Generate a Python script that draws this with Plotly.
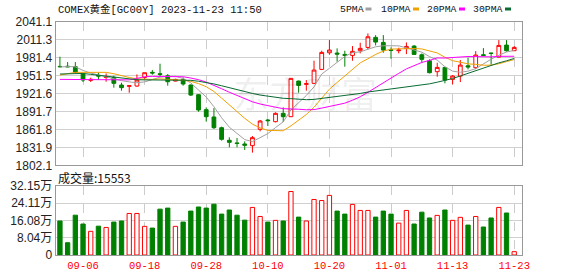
import plotly.graph_objects as go

# ---------------- data ----------------
dates = ["09-01", "09-04", "09-05", "09-06", "09-07", "09-08", "09-11", "09-12", "09-13", "09-14",
         "09-15", "09-18", "09-19", "09-20", "09-21", "09-22", "09-25", "09-26", "09-27", "09-28",
         "09-29", "10-02", "10-03", "10-04", "10-05", "10-06", "10-09", "10-10", "10-11", "10-12",
         "10-13", "10-16", "10-17", "10-18", "10-19", "10-20", "10-23", "10-24", "10-25", "10-26",
         "10-27", "10-30", "10-31", "11-01", "11-02", "11-03", "11-06", "11-07", "11-08", "11-09",
         "11-10", "11-13", "11-14", "11-15", "11-16", "11-17", "11-20", "11-21", "11-22", "11-23"]

open_ = [1966.7, 1967.0, 1966.2, 1954.0, 1943.4, 1951.8, 1948.4, 1948.4, 1935.7, 1933.5,
         1934.0, 1948.4, 1956.8, 1954.5, 1951.2, 1942.3, 1945.1, 1935.7, 1919.6, 1894.7,
         1882.5, 1864.7, 1843.7, 1839.2, 1837.6, 1834.8, 1862.0, 1877.5, 1874.7, 1888.6,
         1883.0, 1942.3, 1936.8, 1938.5, 1961.7, 1989.4, 1988.9, 1986.7, 1985.0, 1992.8,
         1998.3, 2015.0, 2006.6, 1994.4, 1992.8, 1996.7, 2000.5, 1986.1, 1976.1, 1957.9,
         1965.0, 1945.1, 1950.6, 1967.8, 1964.5, 1986.1, 1988.9, 1982.2, 2002.2, 1992.8]
high = [1982.8, 1973.9, 1973.9, 1954.5, 1947.9, 1956.2, 1955.0, 1951.2, 1939.6, 1935.1,
        1953.4, 1956.2, 1960.6, 1971.2, 1954.0, 1946.2, 1948.4, 1936.8, 1920.7, 1898.5,
        1897.4, 1866.4, 1848.7, 1847.6, 1842.0, 1850.9, 1877.5, 1879.1, 1890.2, 1898.5,
        1946.8, 1943.0, 1944.0, 1976.2, 1992.8, 2010.5, 1996.7, 1992.8, 2000.5, 2006.1,
        2021.6, 2018.8, 2018.8, 1998.3, 1997.8, 2006.6, 2002.2, 1988.3, 1978.4, 1972.8,
        1965.5, 1952.3, 1977.3, 1981.1, 1992.2, 1997.2, 1989.4, 2010.5, 2010.5, 2000.5]
low = [1965.1, 1965.5, 1956.0, 1940.7, 1940.7, 1944.0, 1941.2, 1931.3, 1926.3, 1922.9,
       1932.9, 1945.1, 1952.9, 1950.6, 1934.6, 1941.8, 1934.6, 1917.4, 1891.3, 1874.7,
       1862.5, 1843.1, 1832.0, 1832.0, 1827.6, 1823.2, 1858.6, 1867.5, 1873.6, 1874.1,
       1882.5, 1923.0, 1926.3, 1938.0, 1960.6, 1986.1, 1974.5, 1966.2, 1976.2, 1988.4,
       1995.0, 2001.6, 1989.4, 1979.5, 1988.4, 1987.2, 1986.1, 1972.8, 1955.1, 1949.5,
       1938.5, 1936.8, 1940.7, 1961.7, 1962.3, 1983.9, 1969.5, 1981.7, 1991.1, 1992.8]
close = [1966.2, 1966.0, 1956.8, 1944.0, 1945.1, 1950.6, 1949.5, 1938.5, 1931.3, 1934.6,
         1944.0, 1956.2, 1955.7, 1953.4, 1941.2, 1945.1, 1937.4, 1919.0, 1894.1, 1883.0,
         1864.7, 1845.3, 1840.3, 1838.6, 1835.4, 1848.1, 1875.8, 1876.4, 1888.6, 1883.0,
         1946.8, 1935.1, 1937.9, 1960.6, 1990.0, 1993.9, 1987.2, 1985.0, 1991.7, 1996.7,
         2016.0, 2007.2, 1993.9, 1993.3, 1993.9, 1999.9, 1986.7, 1978.4, 1956.2, 1965.0,
         1944.0, 1950.6, 1968.9, 1965.6, 1985.6, 1985.0, 1988.3, 2001.6, 1992.8, 1998.3]

ma5 = [1965.5, 1966.5, 1966.0, 1960.0, 1955.6, 1952.5, 1949.2, 1945.5, 1943.0, 1940.9,
       1939.6, 1940.9, 1944.4, 1948.8, 1950.1, 1950.3, 1946.6, 1939.2, 1927.4, 1915.7,
       1899.6, 1881.2, 1865.5, 1854.4, 1844.9, 1841.5, 1847.6, 1854.9, 1864.9, 1874.4,
       1894.1, 1906.0, 1918.3, 1932.7, 1954.1, 1963.5, 1973.9, 1983.3, 1989.6, 1990.9,
       1995.3, 1999.3, 2001.1, 2001.4, 2000.9, 1997.6, 1993.5, 1990.4, 1983.0, 1977.2,
       1966.1, 1958.8, 1956.9, 1958.8, 1962.9, 1971.1, 1978.7, 1985.2, 1990.7, 1993.2]
ma10 = [1952.3, 1955.0, 1956.8, 1956.8, 1956.8, 1956.8, 1956.8, 1954.5, 1951.0, 1948.3,
        1946.0, 1945.1, 1945.0, 1945.9, 1945.5, 1945.0, 1943.7, 1941.8, 1938.1, 1932.9,
        1925.0, 1913.9, 1902.4, 1890.9, 1880.3, 1870.6, 1864.4, 1860.2, 1859.6, 1859.6,
        1867.8, 1876.8, 1886.6, 1898.8, 1914.2, 1928.8, 1940.0, 1950.8, 1961.1, 1972.5,
        1979.4, 1986.6, 1992.2, 1995.5, 1995.9, 1996.5, 1996.4, 1995.8, 1992.2, 1989.1,
        1981.9, 1976.2, 1973.7, 1970.9, 1970.1, 1968.6, 1968.8, 1971.1, 1974.7, 1978.1]
ma20 = [1945.1, 1945.1, 1945.1, 1945.1, 1944.3, 1944.3, 1944.3, 1944.3, 1944.3, 1944.3,
        1946.8, 1949.5, 1950.1, 1950.1, 1950.1, 1950.1, 1949.5, 1947.3, 1944.6, 1940.6,
        1935.5, 1929.5, 1923.7, 1918.4, 1912.9, 1907.8, 1904.1, 1901.0, 1898.8, 1896.3,
        1896.4, 1895.4, 1894.5, 1894.8, 1897.3, 1899.7, 1902.2, 1905.5, 1910.4, 1916.1,
        1923.6, 1931.7, 1939.4, 1947.1, 1955.1, 1962.6, 1968.2, 1973.3, 1976.7, 1980.8,
        1980.6, 1981.4, 1983.0, 1983.2, 1983.0, 1982.5, 1982.6, 1983.4, 1983.5, 1983.6]
ma30 = [1954.0, 1954.5, 1955.0, 1955.0, 1953.5, 1952.0, 1950.5, 1948.0, 1946.5, 1945.5,
        1944.5, 1944.3, 1944.3, 1944.3, 1944.3, 1944.3, 1944.3, 1943.5, 1942.0, 1940.0,
        1937.5, 1934.5, 1931.0, 1928.0, 1925.0, 1921.7, 1919.0, 1916.8, 1915.0, 1913.6,
        1913.0, 1911.9, 1911.3, 1911.8, 1913.3, 1914.8, 1916.0, 1917.6, 1919.6, 1921.7,
        1924.1, 1925.8, 1927.0, 1928.4, 1930.1, 1932.0, 1933.6, 1935.6, 1937.7, 1940.4,
        1943.0, 1946.5, 1950.8, 1955.1, 1960.1, 1964.6, 1968.4, 1972.6, 1976.0, 1979.9]

# volume in 万
volume = [15.8, 5.7, 18.5, 14.4, 11.0, 13.4, 12.8, 15.3, 15.8, 19.3,
          19.3, 13.3, 12.5, 21.3, 21.8, 13.3, 15.3, 20.4, 22.3, 21.8,
          23.6, 19.0, 20.9, 18.5, 16.2, 22.1, 17.9, 15.3, 16.1, 15.8,
          29.5, 17.6, 15.8, 25.8, 25.3, 27.7, 20.4, 19.0, 23.5, 20.7,
          20.7, 17.6, 20.4, 19.0, 14.8, 20.7, 14.4, 19.9, 17.2, 18.4,
          20.9, 16.1, 17.5, 13.9, 17.9, 13.0, 17.2, 22.1, 19.5, 1.5553]

price_ticks = [1802.1, 1831.9, 1861.8, 1891.7, 1921.6, 1951.5, 1981.4, 2011.3, 2041.1]
vol_ticks = [0, 8.04, 16.08, 24.11, 32.15]
vol_ticktext = ["0", "8.04万", "16.08万", "24.11万", "32.15万"]
date_ticks = ["09-06", "09-18", "09-28", "10-10", "10-20", "11-01", "11-13", "11-23"]

title_text = "COMEX黄金[GC00Y] 2023-11-23 11:50"
vol_title = "成交量:15553"
ma_names = ["5PMA", "10PMA", "20PMA", "30PMA"]
ma_colors = ["#a0a0a0", "#f0a000", "#ff00ff", "#0a6b32"]

RED = "#ff0000"
GREEN = "#008000"

# ---------------- figure ----------------
fig = go.Figure()

for name, vals, col in zip(ma_names, [ma5, ma10, ma20, ma30], ma_colors):
    fig.add_trace(go.Scatter(x=dates, y=vals, mode="lines", name=name,
                             line=dict(color=col, width=1), xaxis="x", yaxis="y",
                             showlegend=False, hoverinfo="skip"))

fig.add_trace(go.Candlestick(
    x=dates, open=open_, high=high, low=low, close=close,
    increasing=dict(line=dict(color=RED, width=1), fillcolor="#ffffff"),
    decreasing=dict(line=dict(color=GREEN, width=1), fillcolor=GREEN),
    whiskerwidth=0, xaxis="x", yaxis="y", showlegend=False))

up = [c >= o for o, c in zip(open_, close)]
bar_fill = ["#ffffff" if u else GREEN for u in up]
bar_line = [RED if u else GREEN for u in up]
fig.add_trace(go.Bar(x=dates, y=volume, width=0.56,
                     marker=dict(color=bar_fill, line=dict(color=bar_line, width=1)),
                     xaxis="x2", yaxis="y2", showlegend=False))

W, H = 578, 276
xdom = [55.7 / W, 522.3 / W]
ydom_main = [1 - 165.3 / H, 1 - 21.7 / H]
ydom_vol = [1 - 255 / H, 1 - 185.8 / H]
xrange_ = [-0.55, 60.05]

frame = dict(showline=True, mirror=True, linecolor="#999999", linewidth=1)
tickfont = dict(family="Liberation Sans, Arial, sans-serif", size=12, color="#222222")

fig.update_layout(
    width=W, height=H, margin=dict(l=0, r=0, t=0, b=0),
    paper_bgcolor="#ffffff", plot_bgcolor="#ffffff",
    bargap=0.3,
    xaxis=dict(domain=xdom, type="category", categoryorder="array", categoryarray=dates,
               range=xrange_, tickmode="array", tickvals=date_ticks, showticklabels=False,
               showgrid=True, gridcolor="#cccccc", griddash="dash", gridwidth=1,
               ticks="", anchor="y", rangeslider=dict(visible=False), automargin=False, **frame),
    yaxis=dict(domain=ydom_main, range=[price_ticks[0], price_ticks[-1]], tickmode="array",
               tickvals=price_ticks, ticktext=[f"{v:.1f}" for v in price_ticks],
               showgrid=True, gridcolor="#d0d0d0", gridwidth=1, zeroline=False,
               ticks="", tickfont=tickfont, anchor="x", automargin=False, **frame),
    xaxis2=dict(domain=xdom, type="category", categoryorder="array", categoryarray=dates,
                range=xrange_, tickmode="array", tickvals=date_ticks, ticktext=date_ticks,
                showgrid=True, gridcolor="#cccccc", griddash="dash", gridwidth=1,
                ticks="", tickfont=dict(family="Liberation Mono, monospace", size=10.5, color=RED),
                anchor="y2", automargin=False, **frame),
    yaxis2=dict(domain=ydom_vol, range=[vol_ticks[0], vol_ticks[-1]], tickmode="array",
                tickvals=vol_ticks, ticktext=vol_ticktext,
                showgrid=True, gridcolor="#d0d0d0", gridwidth=1, zeroline=False,
                ticks="", tickfont=dict(family="Liberation Sans, Noto Sans CJK SC, sans-serif",
                                        size=12, color="#222222"),
                anchor="x2", automargin=False, **frame),
)

annos = []
annos.append(dict(text=title_text, x=56 / W, y=1 - 9 / H, xref="paper", yref="paper",
                  xanchor="left", yanchor="middle", showarrow=False,
                  font=dict(family="Liberation Mono, Noto Sans CJK SC, monospace", size=10.5, color="#111111")))
annos.append(dict(text=vol_title, x=56 / W, y=1 - 177 / H, xref="paper", yref="paper",
                  xanchor="left", yanchor="middle", showarrow=False,
                  font=dict(family="Noto Sans CJK SC, sans-serif", size=12, color="#111111")))
annos.append(dict(text="东方财富", x=305 / W, y=1 - 92 / H, xref="paper", yref="paper",
                  xanchor="center", yanchor="middle", showarrow=False,
                  font=dict(family="Noto Sans CJK SC, sans-serif", size=36, color="rgba(0,0,0,0.07)")))

legend_text_x = [338, 379, 424.5, 470.5]
legend_sq_x = [365.5, 413, 459, 505]
shapes = []
for name, col, tx, sx in zip(ma_names, ma_colors, legend_text_x, legend_sq_x):
    annos.append(dict(text=name, x=tx / W, y=1 - 9 / H, xref="paper", yref="paper",
                      xanchor="left", yanchor="middle", showarrow=False,
                      font=dict(family="Liberation Mono, monospace", size=9.8, color="#111111")))
    shapes.append(dict(type="rect", xref="paper", yref="paper",
                       x0=sx / W, x1=(sx + 6) / W, y0=1 - 10.5 / H, y1=1 - 7.5 / H,
                       fillcolor=col, line=dict(width=0)))

fig.update_layout(annotations=annos, shapes=shapes)

fig.write_html("out.html")
